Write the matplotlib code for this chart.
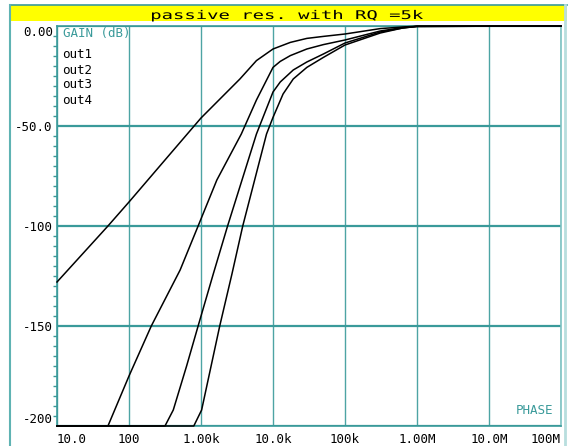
import matplotlib
matplotlib.use("Agg")
import matplotlib.pyplot as plt
from matplotlib.ticker import MultipleLocator, NullLocator
from matplotlib.textpath import TextPath
from matplotlib.patches import PathPatch, Rectangle
from matplotlib.font_manager import FontProperties
from matplotlib.lines import Line2D
from matplotlib.transforms import Affine2D

# data (Hz, dB)
out1_f = [10, 51, 100, 316, 1000, 3470, 5890, 10000, 17400, 29500, 50100,
          100000, 309000, 631000, 1e6, 1e8]
out1_db = [-128, -100, -88, -67, -46, -26.5, -17.3, -11.5, -8.2, -6.2, -5.2,
           -4, -1.3, -0.5, -0.1, 0]

out2_f = [10, 51, 100, 204, 513, 912, 1660, 3630, 5890, 10000, 12600, 17400, 29500,
          50100, 100000, 309000, 631000, 1e6, 1e8]
out2_db = [-200, -200, -175, -150, -122, -100, -77, -54, -37, -20.7, -17.7, -14.8, -11.5,
           -9.3, -7, -2.5, -0.8, -0.2, 0]

out3_f = [10, 316, 412, 631, 912, 1480, 2340, 5890, 10000, 12600, 19100, 29500,
          50100, 100000, 309000, 631000, 1e6, 1e8]
out3_db = [-200, -200, -192, -170, -150, -124, -100, -54, -33, -28, -22, -18,
           -14, -8.5, -3, -1, -0.2, 0]

out4_f = [10, 794, 1020, 1820, 2690, 3800, 8130, 10000, 13800, 19100, 29500,
          50100, 100000, 309000, 631000, 1e6, 1e8]
out4_db = [-200, -200, -192, -150, -124, -100, -54, -45.7, -34, -26.5, -20.7,
           -15.7, -9.5, -3.5, -1, -0.2, 0]

curve_names = ["out1", "out2", "out3", "out4"]
x_ticks = [10, 100, 1e3, 1e4, 1e5, 1e6, 1e7, 1e8]
x_labels = ["10.0", "100", "1.00k", "10.0k", "100k", "1.00M", "10.0M", "100M"]
y_ticks = [0, -50, -100, -150, -200]
y_labels = ["0.00", "-50.0", "-100", "-150", "-200"]
title = "passive res. with RQ =5k"

W, H = 569, 446
TEAL = "#3a9a9a"
LIGHT = "#7cc2c2"
MONO = "DejaVu Sans Mono"

fig = plt.figure(figsize=(W / 100, H / 100), dpi=100)
fig.patch.set_facecolor("white")

# pixel -> figure coords
def fx(px):
    return px / W

def fy(py):
    return 1 - py / H

ax = fig.add_axes([fx(57), fy(426), (561 - 57) / W, (426 - 26) / H])
ax.set_xscale("log")
ax.set_xlim(10, 1e8)
ax.set_ylim(-200, 0)

for f, g in [(out1_f, out1_db), (out2_f, out2_db), (out3_f, out3_db), (out4_f, out4_db)]:
    ax.plot(f, g, color="black", lw=1.1, clip_on=False, zorder=5)

ax.set_xticks(x_ticks)
ax.set_xticklabels(x_labels, fontfamily=MONO, fontsize=9)
ax.xaxis.set_minor_locator(NullLocator())
ax.set_yticks(y_ticks)
ax.set_yticklabels(y_labels, fontfamily=MONO, fontsize=9)
ax.yaxis.set_minor_locator(MultipleLocator(5))

ax.tick_params(axis="x", which="major", length=0, pad=5)
ax.tick_params(axis="y", which="major", length=0, pad=3)
ax.tick_params(axis="y", which="minor", length=3, width=1, color=TEAL, direction="out")

xl = ax.get_xticklabels()
xl[0].set_ha("left")
xl[-1].set_ha("right")
yl = ax.get_yticklabels()
yl[0].set_va("top")
yl[-1].set_va("bottom")

ax.xaxis.grid(True, color=TEAL, lw=1.0, alpha=0.9)
ax.yaxis.grid(True, color=TEAL, lw=1.6)
ax.set_axisbelow(True)
for s in ["left", "bottom", "top"]:
    ax.spines[s].set_color(TEAL)
    ax.spines[s].set_linewidth(1.2)
ax.spines["right"].set_color(LIGHT)
ax.spines["right"].set_linewidth(1.2)

# labels inside the plot
fig.text(fx(63), fy(33.5), "GAIN (dB)", color=TEAL, fontfamily=MONO, fontsize=9,
         va="center", ha="left")
for i, name in enumerate(curve_names):
    fig.text(fx(62), fy(55 + 15 * i), name, color="black", fontfamily=MONO,
             fontsize=9, va="center", ha="left")
fig.text(fx(553), fy(410), "PHASE", color=TEAL, fontfamily=MONO, fontsize=9,
         va="center", ha="right")

# outer frame + yellow title bar
fig.add_artist(Rectangle((fx(10), fy(21)), fx(567) - fx(10), fy(5.5) - fy(21),
                         transform=fig.transFigure, facecolor="#ffff00", edgecolor="none"))
fig.add_artist(Line2D([fx(10), fx(567)], [fy(5), fy(5)], transform=fig.transFigure,
                      color=TEAL, lw=1.2))
fig.add_artist(Line2D([fx(10), fx(10)], [fy(5), 0], transform=fig.transFigure,
                      color="#5fb3b3", lw=1.5))
fig.add_artist(Line2D([fx(565), fx(565)], [fy(5), 0], transform=fig.transFigure,
                      color="#b8dede", lw=2.0))

# stretched title text
tp = TextPath((0, 0), title, size=12, prop=FontProperties(family=MONO))
bb = tp.get_extents()
sx = 271 / bb.width
tr = Affine2D().translate(-bb.x0, 0).scale(sx / W, 1 / H).translate(fx(152), fy(19)) + fig.transFigure
fig.add_artist(PathPatch(tp, transform=tr, facecolor="black", edgecolor="none"))

fig.savefig("out.png", dpi=100)
